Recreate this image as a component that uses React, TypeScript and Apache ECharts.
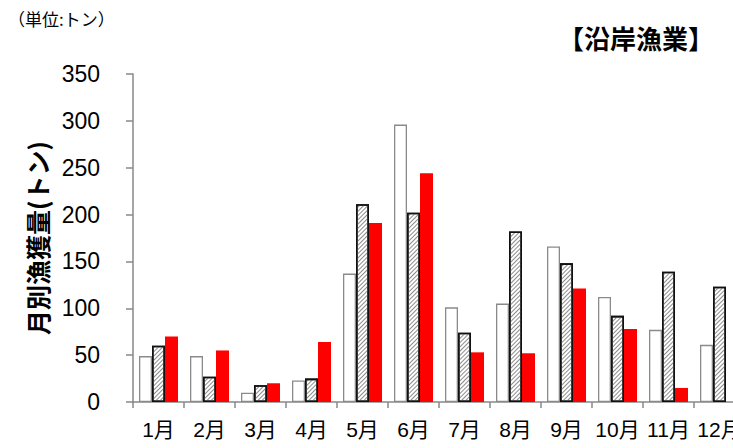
import React, { useEffect, useRef } from "react";
import * as echarts from "echarts";

const months = ["1月", "2月", "3月", "4月", "5月", "6月", "7月", "8月", "9月", "10月", "11月", "12月"];
const seriesWhite = [49, 49, 10, 23, 137, 296, 101, 105, 166, 112, 77, 61];
const seriesHatched = [60, 27, 18, 25, 211, 202, 74, 182, 148, 92, 139, 123];
const seriesRed = [70, 55, 20, 64, 191, 244, 53, 52, 121, 78, 15, null];
const yTicks = { min: 0, max: 350, interval: 50 };

const FONT = "'Liberation Sans', 'Noto Sans CJK JP', sans-serif";
const JFONT = "'Noto Sans CJK JP', sans-serif";

export default function App() {
  const ref = useRef<HTMLDivElement>(null);
  useEffect(() => {
    if (!ref.current) return;
    const chart = echarts.init(ref.current, null, { renderer: "svg" });
    chart.setOption({
      animation: false,
      backgroundColor: "#ffffff",
      grid: { left: 133, top: 74, height: 328, width: 612, outerBoundsMode: "none", containLabel: false },
      graphic: [
        {
          type: "text",
          left: 8,
          top: 10,
          style: { text: "（単位:トン）", font: `17px ${JFONT}`, fill: "#000" },
        },
        {
          type: "text",
          left: 558,
          top: 24,
          style: { text: "【沿岸漁業】", font: `bold 26px ${JFONT}`, fill: "#000" },
        },
      ],
      xAxis: {
        type: "category",
        data: months,
        axisLine: { lineStyle: { color: "#888", width: 1.5 } },
        axisTick: { show: true, length: 6, lineStyle: { color: "#888", width: 1.5 } },
        axisLabel: { fontFamily: FONT, fontSize: 21, color: "#000", margin: 17, interval: 0 },
      },
      yAxis: {
        type: "value",
        min: yTicks.min,
        max: yTicks.max,
        interval: yTicks.interval,
        name: "月別漁獲量(トン)",
        nameLocation: "middle",
        nameRotate: 90,
        nameGap: 84,
        nameTextStyle: { fontFamily: JFONT, fontSize: 25, fontWeight: "bold", color: "#000" },
        axisLine: { show: true, lineStyle: { color: "#888", width: 1.5 } },
        axisTick: { show: true, length: 7, lineStyle: { color: "#888", width: 1.5 } },
        splitLine: { show: false },
        axisLabel: { fontFamily: FONT, fontSize: 23, color: "#000", margin: 33 },
      },
      series: [
        {
          type: "bar",
          data: seriesWhite,
          barWidth: 13,
          barGap: "0%",
          itemStyle: { color: "#ffffff", borderColor: "#8a8a8a", borderWidth: 1.3 },
        },
        {
          type: "bar",
          data: seriesHatched,
          barWidth: 13,
          barGap: "0%",
          itemStyle: {
            color: "#ffffff",
            borderColor: "#111",
            borderWidth: 1.6,
            decal: {
              symbol: "rect",
              symbolSize: 1,
              color: "#8c8c8c",
              backgroundColor: "#ffffff",
              dashArrayX: [1, 0],
              dashArrayY: [1, 2],
              rotation: -Math.PI / 4,
            },
          },
        },
        {
          type: "bar",
          data: seriesRed,
          barWidth: 13,
          barGap: "0%",
          itemStyle: { color: "#ff0000" },
        },
      ],
    });
    return () => chart.dispose();
  }, []);
  return (
    <div
      ref={ref}
      style={{ position: "fixed", left: 0, top: 0, width: 733, height: 448, background: "#fff" }}
    />
  );
}
